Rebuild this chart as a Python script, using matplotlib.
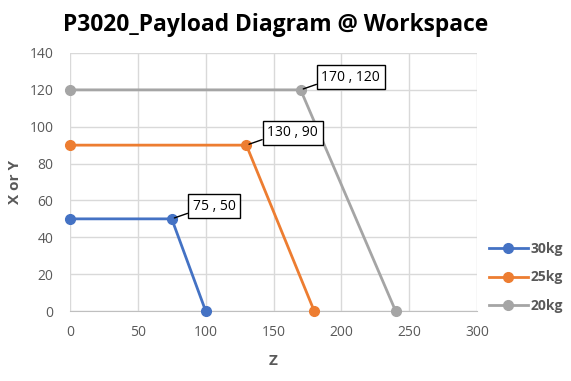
import matplotlib
matplotlib.use("Agg")
import matplotlib.pyplot as plt

plt.rcParams['font.family'] = ['Open Sans', 'DejaVu Sans']

series_names = ["30kg", "25kg", "20kg"]
z_30 = [0, 75, 100]
y_30 = [50, 50, 0]
z_25 = [0, 130, 180]
y_25 = [90, 90, 0]
z_20 = [0, 170, 240]
y_20 = [120, 120, 0]
colors = ["#4472C4", "#ED7D31", "#A5A5A5"]
labels_pts = [(75, 50), (130, 90), (170, 120)]

fig = plt.figure(figsize=(5.71, 3.81), dpi=100)
ax = fig.add_axes([0.1226, 0.1837, 0.7128, 0.6772])

for zs, ys, c, n in zip([z_30, z_25, z_20], [y_30, y_25, y_20], colors, series_names):
    ax.plot(zs, ys, color=c, lw=2.0, marker='o', ms=7, label=n, zorder=3, clip_on=False)

for (zx, yy) in labels_pts:
    ax.annotate(f"{zx} , {yy}", xy=(zx, yy), xytext=(15, 9), textcoords='offset points',
                fontsize=10, color='black', va='center', ha='left',
                bbox=dict(boxstyle='square,pad=0.33', fc='white', ec='black', lw=1.0),
                arrowprops=dict(arrowstyle='-', color='black', lw=1.0, shrinkA=0, shrinkB=2,
                                relpos=(0.0, 0.15)),
                zorder=5)

ax.set_xlim(0, 300)
ax.set_ylim(0, 140)
ax.set_xticks(range(0, 301, 50))
ax.set_yticks(range(0, 141, 20))
ax.grid(True, color='#D9D9D9', lw=1.0)
ax.set_axisbelow(True)
for s in ['top', 'right', 'left']:
    ax.spines[s].set_visible(False)
ax.spines['bottom'].set_color('#BFBFBF')
ax.tick_params(length=0, colors='#595959', labelsize=10)
ax.tick_params(axis='y', pad=12)
ax.tick_params(axis='x', pad=10)

ax.set_xlabel("Z", fontsize=11, fontweight='bold', color='#595959', labelpad=10)
ax.set_ylabel("X or Y", fontsize=11, fontweight='bold', color='#595959', labelpad=5)

fig.suptitle("P3020_Payload Diagram @ Workspace", x=0.482, y=0.965, fontsize=16.4,
             fontweight='bold', color='black')

leg = ax.legend(loc='center left', bbox_to_anchor=(1.005, 0.13), frameon=False,
                fontsize=10, labelspacing=1.05, handlelength=2.8, handletextpad=0.2,
                borderaxespad=0.3)
for t in leg.get_texts():
    t.set_fontweight('bold')
    t.set_color('#595959')

fig.savefig("out.png", dpi=100)
